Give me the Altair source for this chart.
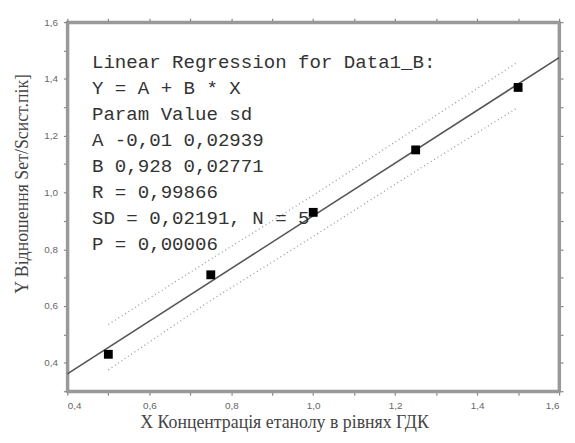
import altair as alt
import pandas as pd

# measured points
xs = [0.5, 0.75, 1.0, 1.25, 1.5]
ys = [0.43, 0.71, 0.93, 1.15, 1.37]

# fitted line end points
fit_x = [0.4, 1.6]
fit_y = [0.361, 1.475]

# dotted band curves
band_x = [0.5, 0.75, 1.0, 1.25, 1.5]
band_upper = [0.535, 0.765, 0.99, 1.225, 1.46]
band_lower = [0.375, 0.62, 0.845, 1.075, 1.30]

annot_lines = [
    "Linear Regression for Data1_B:",
    "Y = A + B * X",
    "Param Value sd",
    "A -0,01 0,02939",
    "B 0,928 0,02771",
    "R  = 0,99866",
    "SD = 0,02191, N = 5",
    "P = 0,00006",
]
annot_x = [0.46]
annot_y = [1.49]

x_ticks = [0.4, 0.5, 0.6, 0.7, 0.8, 0.9, 1.0, 1.1, 1.2, 1.3, 1.4, 1.5, 1.6]
y_ticks = [0.3, 0.4, 0.5, 0.6, 0.7, 0.8, 0.9, 1.0, 1.1, 1.2, 1.3, 1.4, 1.5, 1.6]
x_title = "Х Концентрація етанолу в рівнях ГДК"
y_title = "Y Відношення Sет/Sсист.пік]"

pts = pd.DataFrame({"x": xs, "y": ys})
fit = pd.DataFrame({"x": fit_x, "y": fit_y})
band = pd.concat([
    pd.DataFrame({"x": band_x, "y": band_upper, "b": "upper"}),
    pd.DataFrame({"x": band_x, "y": band_lower, "b": "lower"}),
])
ann = pd.DataFrame({"x": annot_x, "y": annot_y})

label_expr = ("round(datum.value * 10) % 2 == 0 && datum.value > 0.35 ? "
              "replace(format(datum.value, '.1f'), '.', ',') : ''")
xscale = alt.Scale(domain=[0.4, 1.6], nice=False, zero=False)
yscale = alt.Scale(domain=[0.3, 1.6], nice=False, zero=False)

xaxis = alt.Axis(values=x_ticks, labelExpr=label_expr,
                 title=x_title, titleX=219, titleY=37, titleBaseline="alphabetic",
                 titleFont="Liberation Serif", titleFontSize=18, titleFontWeight="normal",
                 titleColor="#444", grid=False)
yaxis = alt.Axis(values=y_ticks, labelExpr=label_expr,
                 title=y_title, titleX=-36, titleY=163,
                 titleFont="Liberation Serif", titleFontSize=18, titleFontWeight="normal",
                 titleColor="#444", grid=False)

Xn = alt.X("x:Q", scale=xscale, axis=None)
Yn = alt.Y("y:Q", scale=yscale, axis=None)

base_layer = alt.Chart(pts).mark_square(color="black", size=80, opacity=1).encode(
    x=alt.X("x:Q", scale=xscale, axis=xaxis),
    y=alt.Y("y:Q", scale=yscale, axis=yaxis),
)
band_layer = alt.Chart(band).mark_line(color="#999", strokeDash=[1, 3], strokeWidth=1.3).encode(
    x=Xn, y=Yn, detail="b:N")
fit_layer = alt.Chart(fit).mark_line(color="#555", strokeWidth=1.6).encode(x=Xn, y=Yn)
ann_layer = alt.Chart(ann).mark_text(
    align="left", baseline="top", font="Liberation Mono", fontSize=19.3,
    lineHeight=26.3, color="#333"
).encode(x=Xn, y=Yn, text=alt.value(annot_lines))

# top/right frame ticks
frame_layer = alt.Chart(fit).mark_point(opacity=0).encode(
    x=alt.X("x:Q", scale=xscale, axis=alt.Axis(orient="top", labels=False, title="",
            values=x_ticks, grid=False)),
    y=alt.Y("y:Q", scale=yscale, axis=alt.Axis(orient="right", labels=False, title="",
            values=y_ticks, grid=False)),
)

chart = alt.layer(band_layer, fit_layer, base_layer, ann_layer, frame_layer).resolve_axis(
    x="independent", y="independent"
).properties(
    width=497, height=373,
    autosize=alt.AutoSizeParams(type="none"),
    padding={"left": 60, "top": 12, "right": 8, "bottom": 45},
).configure_view(stroke="#999", strokeWidth=3).configure_axis(
    domainColor="#999", domainWidth=3, tickColor="#888", tickSize=4, tickWidth=1.2,
    labelColor="#666", labelFontSize=10, labelFont="Liberation Sans", labelPadding=6,
)

chart.save("out.html", embed_options={"renderer": "svg", "actions": False})
